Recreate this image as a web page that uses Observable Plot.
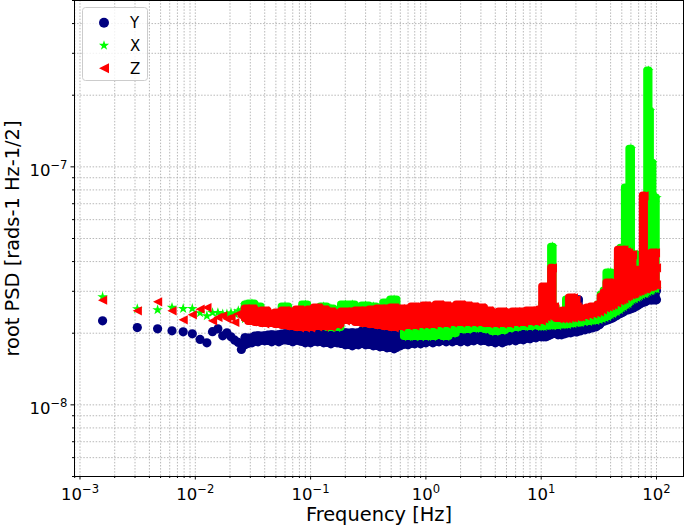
<!DOCTYPE html>
<html><head><meta charset="utf-8">
<script src="https://cdn.jsdelivr.net/npm/d3@7"></script>
<script src="https://cdn.jsdelivr.net/npm/@observablehq/plot@0.6"></script>
<style>
body{margin:0;background:#fff;}
#wrap{position:relative;width:685px;height:528px;font-family:"DejaVu Sans",sans-serif;}
</style></head><body><div id="wrap"></div>
<script>
// ---- data (values in units of 1e-8 rad s^-1 Hz^-1/2) ----
const unit = 1e-8;
const seriesNames = ["Y", "X", "Z"];
const seriesColors = ["#000080", "#00ff00", "#ff0000"];

// low-frequency individual bins [Hz]
const lowFreq = [0.00157, 0.00314, 0.00471, 0.00628, 0.00785, 0.00942, 0.0110, 0.0126, 0.0141, 0.0157, 0.0173, 0.0188, 0.0204, 0.0220, 0.0236, 0.0251];
const yLow = [2.254, 2.113, 2.086, 2.046, 2.027, 1.988, 1.884, 1.822, 2.030, 2.086, 1.950, 2.007, 1.931, 1.870, 1.830, 1.710];
const xLow = [2.843, 2.531, 2.507, 2.563, 2.538, 2.538, 2.435, 2.366, 2.440, 2.440, 2.410, 2.410, 2.435, 2.412, 2.483, 2.507];
const zLow = [2.754, 2.483, 2.709, 2.483, 2.276, 2.389, 2.524, 2.563, 2.254, 2.330, 2.366, 2.298, 2.330, 2.218, 2.412, 2.343];

// dense part: sampled frequencies with upper / lower envelope of the point cloud
const bandFreq = [0.027, 0.031, 0.035, 0.04, 0.046, 0.053, 0.06, 0.07, 0.08, 0.09,
 0.1, 0.115, 0.13, 0.15, 0.17, 0.2, 0.23, 0.26, 0.3, 0.35,
 0.4, 0.46, 0.53, 0.6, 0.7, 0.8, 0.9, 1, 1.15, 1.3,
 1.5, 1.7, 2, 2.3, 2.6, 3, 3.5, 4, 4.6, 5.3,
 6, 7, 8, 9, 10, 10.5, 11, 11.5, 12, 12.5,
 13, 14, 15, 16, 17, 18, 19, 20, 20.5, 21,
 22, 24, 26, 28, 30, 32, 34, 36, 38, 40,
 42, 45, 48, 50, 52, 55, 57, 60, 62, 63.5,
 65, 68, 70, 72, 75, 78, 80, 82, 85, 88,
 90, 92, 95, 98, 100];

const yHi = [1.912, 1.912, 1.950, 1.950, 1.969, 1.969, 1.988, 2.007, 2.007, 2.027,
 2.046, 2.066, 2.086, 2.066, 2.027, 2.007, 2.007, 2.007, 2.046, 2.066,
 2.086, 2.086, 2.127, 2.046, 2.007, 1.988, 1.969, 1.969, 1.969, 1.969,
 1.969, 1.969, 1.969, 1.969, 1.988, 1.988, 1.988, 1.988, 1.988, 2.007,
 2.007, 2.027, 2.046, 2.066, 2.066, 2.086, 2.086, 2.107, 2.107, 2.127,
 2.107, 2.086, 2.107, 2.127, 2.148, 2.169, 2.169, 2.211, 2.211, 2.762,
 2.211, 2.254, 2.276, 2.298, 2.320, 2.366, 2.389, 2.412, 2.435, 2.483,
 2.507, 2.556, 2.581, 2.606, 2.631, 2.657, 2.683, 2.709, 2.735, 2.735,
 2.762, 2.789, 2.816, 2.816, 2.843, 2.871, 2.899, 2.927, 2.955, 2.984,
 2.984, 2.984, 3.013, 3.013, 3.013];
const yLo = [1.787, 1.822, 1.840, 1.858, 1.840, 1.840, 1.876, 1.840, 1.858, 1.822,
 1.822, 1.840, 1.822, 1.805, 1.822, 1.787, 1.770, 1.787, 1.787, 1.770,
 1.753, 1.736, 1.720, 1.770, 1.787, 1.805, 1.805, 1.822, 1.822, 1.840,
 1.840, 1.840, 1.840, 1.840, 1.858, 1.858, 1.840, 1.822, 1.822, 1.858,
 1.858, 1.876, 1.894, 1.912, 1.931, 1.931, 1.931, 1.950, 1.969, 1.988,
 2.007, 1.969, 1.969, 1.988, 2.007, 2.007, 2.027, 2.027, 2.027, 2.046,
 2.046, 2.066, 2.086, 2.107, 2.127, 2.169, 2.232, 2.254, 2.276, 2.298,
 2.320, 2.366, 2.412, 2.435, 2.459, 2.507, 2.507, 2.531, 2.556, 2.556,
 2.581, 2.606, 2.631, 2.657, 2.683, 2.709, 2.709, 2.735, 2.762, 2.762,
 2.762, 2.762, 2.762, 2.762, 2.762];

const xHi = [2.631, 2.657, 2.581, 2.430, 2.370, 2.390, 2.581, 2.410, 2.460, 2.631,
 2.460, 2.500, 2.581, 2.531, 2.360, 2.631, 2.631, 2.430, 2.606, 2.581,
 2.480, 2.683, 2.762, 2.480, 2.507, 2.483, 2.459, 2.459, 2.459, 2.459,
 2.459, 2.459, 2.459, 2.459, 2.459, 2.459, 2.389, 2.343, 2.343, 2.343,
 2.343, 2.343, 2.343, 2.366, 2.435, 2.657, 2.955, 3.013, 3.013, 4.610,
 2.581, 2.483, 2.389, 2.389, 2.762, 2.762, 2.631, 2.389, 2.389, 2.389,
 2.435, 2.459, 2.483, 2.507, 2.507, 2.631, 2.899, 3.013, 3.586, 3.586,
 2.735, 2.735, 4.066, 4.566, 4.566, 8.163, 8.163, 11.90, 4.268, 4.268,
 4.268, 4.268, 4.187, 4.066, 4.268, 4.268, 4.268, 4.268, 25.31, 17.19,
 10.39, 10.39, 7.410, 7.410, 7.410];
const xLo = [2.298, 2.343, 2.298, 2.254, 2.232, 2.232, 2.211, 2.190, 2.169, 2.190,
 2.169, 2.148, 2.127, 2.107, 2.107, 2.298, 2.298, 2.298, 2.200, 2.200,
 2.200, 2.200, 2.200, 2.200, 1.931, 1.931, 1.931, 1.931, 1.931, 1.950,
 1.931, 1.988, 2.066, 2.066, 2.086, 2.086, 2.066, 2.027, 2.046, 2.086,
 2.107, 2.127, 2.127, 2.148, 2.127, 2.127, 2.148, 2.148, 2.148, 2.148,
 2.169, 2.148, 2.169, 2.169, 2.169, 2.190, 2.190, 2.211, 2.211, 2.211,
 2.211, 2.232, 2.232, 2.254, 2.254, 2.276, 2.298, 2.320, 2.343, 2.389,
 2.412, 2.459, 2.507, 2.556, 2.581, 2.631, 2.657, 2.735, 2.762, 2.789,
 2.789, 2.816, 2.843, 2.871, 2.899, 2.927, 2.927, 2.955, 2.984, 3.013,
 3.013, 3.043, 3.072, 3.072, 3.072];

const zHi = [2.531, 2.531, 2.435, 2.483, 2.412, 2.435, 2.483, 2.459, 2.507, 2.459,
 2.507, 2.556, 2.507, 2.459, 2.412, 2.459, 2.459, 2.483, 2.483, 2.507,
 2.531, 2.531, 2.556, 2.531, 2.531, 2.581, 2.556, 2.606, 2.581, 2.631,
 2.606, 2.581, 2.631, 2.606, 2.581, 2.556, 2.483, 2.435, 2.459, 2.435,
 2.459, 2.459, 2.483, 2.483, 2.507, 3.132, 3.132, 3.132, 3.132, 3.763,
 2.581, 2.459, 2.435, 2.483, 2.483, 2.816, 2.816, 2.762, 2.581, 2.531,
 2.507, 2.531, 2.556, 2.581, 2.581, 2.631, 2.843, 2.955, 3.255, 3.255,
 3.132, 2.709, 4.478, 4.478, 4.478, 4.392, 4.351, 4.268, 4.268, 3.621,
 3.621, 3.621, 3.691, 3.691, 3.691, 7.553, 3.691, 3.763, 3.763, 3.763,
 4.268, 4.351, 4.351, 4.351, 3.763];
const zLo = [2.298, 2.232, 2.211, 2.190, 2.190, 2.169, 2.148, 2.127, 2.107, 2.107,
 2.107, 2.127, 2.127, 2.127, 2.169, 2.254, 2.254, 2.211, 2.190, 2.169,
 2.148, 2.127, 2.107, 2.127, 2.148, 2.148, 2.169, 2.169, 2.169, 2.190,
 2.190, 2.211, 2.211, 2.211, 2.211, 2.211, 2.190, 2.190, 2.190, 2.190,
 2.211, 2.211, 2.232, 2.232, 2.254, 2.298, 2.343, 2.389, 2.389, 2.389,
 2.343, 2.298, 2.298, 2.298, 2.298, 2.320, 2.320, 2.343, 2.343, 2.343,
 2.343, 2.366, 2.389, 2.412, 2.435, 2.459, 2.507, 2.556, 2.581, 2.606,
 2.631, 2.683, 2.735, 2.762, 2.789, 2.843, 2.871, 2.899, 2.927, 2.927,
 2.955, 2.984, 3.013, 3.013, 3.043, 3.072, 3.072, 3.102, 3.132, 3.132,
 3.163, 3.163, 3.193, 3.193, 3.193];

// axes
const xMajorTicks = [1e-3, 1e-2, 1e-1, 1e0, 1e1, 1e2];
const yMajorTicks = [1e-8, 1e-7];
const xDomain = [8.96e-4, 171.5];
const yDomain = [5e-9, 5e-7];
const xLabel = "Frequency [Hz]";
const yLabel = "root PSD [rads-1 Hz-1/2]";

// ---- build ----
const inDom = (dom) => (v) => v >= dom[0] * 0.999 && v <= dom[1] * 1.001;
const minorOf = (decades, dom) => decades.flatMap(d => [2,3,4,5,6,7,8,9].map(k => k * d)).filter(inDom(dom));
const xMinorTicks = minorOf([1e-4, 1e-3, 1e-2, 1e-1, 1e0, 1e1, 1e2], xDomain);
const yMinorTicks = minorOf([1e-9, 1e-8, 1e-7], yDomain);
const supFmt = d => { const e = Math.round(Math.log10(d)); return "10^" + (e < 0 ? "\u2212" + (-e) : String(e)); };

const triLeft = { draw(ctx, size) { const h = Math.sqrt(size / Math.PI); ctx.moveTo(-h, 0); ctx.lineTo(h, -h); ctx.lineTo(h, h); ctx.closePath(); } };
const symbols = [d3.symbolCircle, d3.symbolStar, triLeft];
const plotSymbols = ["circle", "star", triLeft];
const radii = [4.6, 3.3, 4.6];

const bands = [[yHi, yLo], [xHi, xLo], [zHi, zLo]].map(([hi, lo]) => bandFreq.map((f, i) => ({f, hi: hi[i] * unit, lo: lo[i] * unit})));
const lows = [yLow, xLow, zLow].map(arr => lowFreq.map((f, i) => ({f, v: arr[i] * unit})));

const gridStyle = {stroke: "#b0b0b0", strokeOpacity: 1, strokeWidth: 0.9, strokeDasharray: "1.5,1.6"};
const marks = [
  Plot.gridX(xMajorTicks.concat(xMinorTicks), gridStyle),
  Plot.gridY(yMajorTicks.concat(yMinorTicks), gridStyle)
];
seriesNames.forEach((name, s) => {
  const c = seriesColors[s];
  marks.push(
    // the dense cloud of markers: envelope area thickened by the marker radius
    Plot.areaY(bands[s], {x: "f", y1: "lo", y2: "hi", fill: c, stroke: c, strokeWidth: 7.5, strokeLinejoin: "round", curve: "step"}),
    Plot.dot(bands[s], {x: "f", y: "hi", symbol: plotSymbols[s], r: radii[s], fill: c}),
    Plot.dot(bands[s], {x: "f", y: "lo", symbol: plotSymbols[s], r: radii[s], fill: c}),
    Plot.dot(lows[s], {x: "f", y: "v", symbol: plotSymbols[s], r: radii[s], fill: c})
  );
});
marks.push(
  Plot.axisX(xMajorTicks, {tickSize: 3.5, tickPadding: 8, tickFormat: supFmt, fontSize: 16.5, label: null}),
  Plot.axisX(xMinorTicks, {tickSize: 2, tickFormat: () => "", label: xLabel, labelAnchor: "center", labelArrow: "none", labelOffset: 44, fontSize: 19.4}),
  Plot.axisY(yMajorTicks, {tickSize: 3.5, tickPadding: 3.5, tickFormat: supFmt, fontSize: 16.5, label: null}),
  Plot.axisY(yMinorTicks, {tickSize: 2, tickFormat: () => "", label: yLabel, labelAnchor: "center", labelArrow: "none", labelOffset: 69, fontSize: 19.4}),
  Plot.frame({stroke: "black", strokeWidth: 1})
);

const chart = Plot.plot({
  width: 685, height: 528,
  marginLeft: 74, marginRight: 2, marginTop: 0, marginBottom: 52,
  style: {fontFamily: "DejaVu Sans", fontSize: "16.5px", background: "white", color: "black", overflow: "visible"},
  x: {type: "log", domain: xDomain},
  y: {type: "log", domain: yDomain},
  marks
});

// matplotlib-like superscript tick labels
const ns = "http://www.w3.org/2000/svg";
chart.querySelectorAll("text").forEach(t => {
  const m = /^10\^(.+)$/.exec(t.textContent);
  if (!m) return;
  const isY = m[1] === "\u22127" || m[1] === "\u22128";
  t.textContent = "";
  const a = document.createElementNS(ns, "tspan");
  a.textContent = "10";
  if (isY) a.setAttribute("dy", "4");
  const b = document.createElementNS(ns, "tspan");
  b.textContent = m[1];
  b.setAttribute("dy", "-7");
  b.setAttribute("font-size", "11.6");
  t.append(a, b);
});

const wrap = document.getElementById("wrap");
wrap.appendChild(chart);

// legend (inside axes, upper left)
const lg = d3.create("svg").attr("width", 68).attr("height", 76)
  .style("position", "absolute").style("left", "82px").style("top", "7px")
  .style("font-family", "DejaVu Sans");
lg.append("rect").attr("x", 0.5).attr("y", 0.5).attr("width", 65).attr("height", 73).attr("rx", 3)
  .attr("fill", "white").attr("fill-opacity", 0.8).attr("stroke", "#cccccc");
const legendSizes = [Math.PI * 5 * 5, Math.PI * 3.2 * 3.2, Math.PI * 5 * 5];
seriesNames.forEach((name, i) => {
  const cy = 15.7 + i * 22.8;
  lg.append("path").attr("d", d3.symbol(symbols[i], legendSizes[i])()).attr("transform", `translate(22,${cy})`).attr("fill", seriesColors[i]);
  lg.append("text").attr("x", 48).attr("y", cy + 5.5).attr("font-size", 15).attr("fill", "black").text(name);
});
wrap.appendChild(lg.node());
</script></body></html>
